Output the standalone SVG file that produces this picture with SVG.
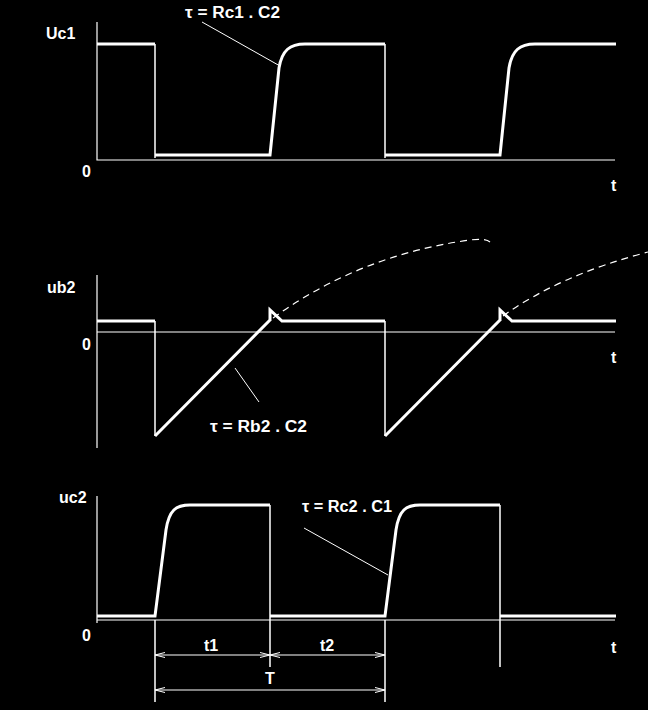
<svg xmlns="http://www.w3.org/2000/svg" width="648" height="710" viewBox="0 0 648 710">
<style>
.bg{fill:#000}
.ax{fill:none;stroke:#fff;stroke-width:1.2}
.sig{fill:none;stroke:#fff;stroke-width:3;stroke-linejoin:miter}
.thin{fill:none;stroke:#fff;stroke-width:1.5}
.lead{fill:none;stroke:#fff;stroke-width:1}
.dash{fill:none;stroke:#fff;stroke-width:1.2;stroke-dasharray:7,5}
.dim{fill:none;stroke:#fff;stroke-width:1.2}
text{font-family:"Liberation Sans",Arial,sans-serif;font-weight:bold;font-size:16px;fill:#fff}
</style>
<defs>
<marker id="ah" viewBox="0 0 10 6" refX="10" refY="3" markerWidth="10" markerHeight="6" markerUnits="userSpaceOnUse" orient="auto-start-reverse">
<path d="M0,0.5 L10,3 L0,5.5" fill="none" stroke="#fff" stroke-width="1"/>
</marker>
</defs>
<rect class="bg" x="0" y="0" width="648" height="710"/>

<g id="panel-uc1">
<path class="ax" d="M97,22 V160 H615"/>
<path class="sig" d="M97,44 H155 M155,155 H270 L279,68 C282,50 290,44 305,44 H385 M385,155 H500 L509,68 C512,50 520,44 535,44 H616"/>
<path class="thin" d="M155,44 V158 M385,44 V158"/>
<text x="46" y="39">Uc1</text>
<text x="82" y="177">0</text>
<text x="611" y="191">t</text>
</g>

<g id="panel-ub2">
<path class="ax" d="M97,275 V448 M97,332 H615"/>
<path class="sig" d="M97,321 H155 M155,436 L270,320 M270,321 V310 L282,321 H385 M385,436 L500,320 M500,321 V310 L512,321 H616"/>
<path class="thin" d="M155,321 V436 M385,321 V436"/>
<path class="dash" d="M273,318 Q360,255 470,240 Q485,238 490,242"/>
<path class="dash" d="M503,316 Q560,275 648,252"/>
<text x="47" y="293">ub2</text>
<text x="82" y="350">0</text>
<text x="611" y="363">t</text>
</g>

<g id="panel-uc2">
<path class="ax" d="M97,496 V623 M97,620 H615"/>
<path class="sig" d="M97,616 H155 L166,530 C169,510 176,505 190,505 H270 M270,616 H385 L396,530 C399,510 406,505 420,505 H500 M500,616 H616"/>
<path class="thin" d="M270,505 V667 M500,505 V667 M155,620 V702 M385,620 V702"/>
<text x="59" y="503">uc2</text>
<text x="82" y="641">0</text>
<text x="611" y="653">t</text>
</g>

<g id="labels">
<text x="185" y="18" textLength="95" lengthAdjust="spacingAndGlyphs">τ = Rc1 . C2</text>
<text x="210" y="432" textLength="97" lengthAdjust="spacingAndGlyphs">τ = Rb2 . C2</text>
<text x="302" y="512" textLength="90" lengthAdjust="spacingAndGlyphs">τ = Rc2 . C1</text>
<text x="204" y="651">t1</text>
<text x="320" y="651">t2</text>
<text x="265" y="684">T</text>
</g>

<g id="connectors">
<path class="lead" d="M202,22 L280,66"/>
<path class="lead" d="M235,368 L259,402"/>
<path class="lead" d="M304,528 L388,575"/>
<path class="dim" d="M155,655 H270" marker-start="url(#ah)" marker-end="url(#ah)"/>
<path class="dim" d="M270,655 H385" marker-start="url(#ah)" marker-end="url(#ah)"/>
<path class="dim" d="M155,690 H385" marker-start="url(#ah)" marker-end="url(#ah)"/>
</g>
</svg>
